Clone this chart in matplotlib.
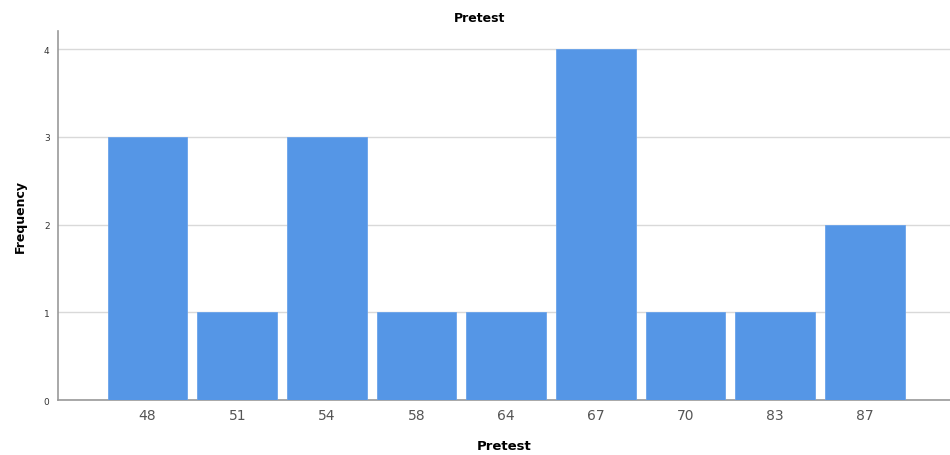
import numpy as np
import matplotlib.pyplot as plt

plt.rcParams.update({
    "font.family": "DejaVu Sans",
})

scores = ['48', '51', '54', '58', '64', '67', '70', '83', '87']
freq = [3, 1, 3, 1, 1, 4, 1, 1, 2]

fig = plt.figure(figsize=(9.5, 4.56), dpi=100)
ax = fig.add_axes([0.061, 0.1206, 0.939, 0.809])

x = np.arange(len(scores))
ax.bar(x, freq, width=0.89, color='#5596e6', edgecolor='#6aa3ea', linewidth=0.6, zorder=3)

ax.set_xlim(-1, 8.95)
ax.set_ylim(0, 4.205)
ax.set_yticks([0, 1, 2, 3, 4])
ax.set_xticks(x)
ax.set_xticklabels(scores, fontsize=10, color='#555555')
ax.tick_params(axis='y', labelsize=6.5, length=0, pad=6, labelcolor='#333333')
ax.tick_params(axis='x', length=0, pad=6)
ax.grid(axis='y', color='#d9d9d9', linewidth=1, zorder=0)

for s in ['top', 'right']:
    ax.spines[s].set_visible(False)
ax.spines['left'].set_color('#999999')
ax.spines['bottom'].set_color('#999999')
ax.spines['left'].set_linewidth(1.2)
ax.spines['bottom'].set_linewidth(1.2)

ax.set_title('Pretest', fontsize=9, fontweight='bold', pad=7, x=0.473)
ax.set_ylabel('Frequency', fontsize=9, fontweight='bold', labelpad=12)
ax.set_xlabel('Pretest', fontsize=9.5, fontweight='bold', labelpad=12)

plt.savefig('out.png', dpi=100)
